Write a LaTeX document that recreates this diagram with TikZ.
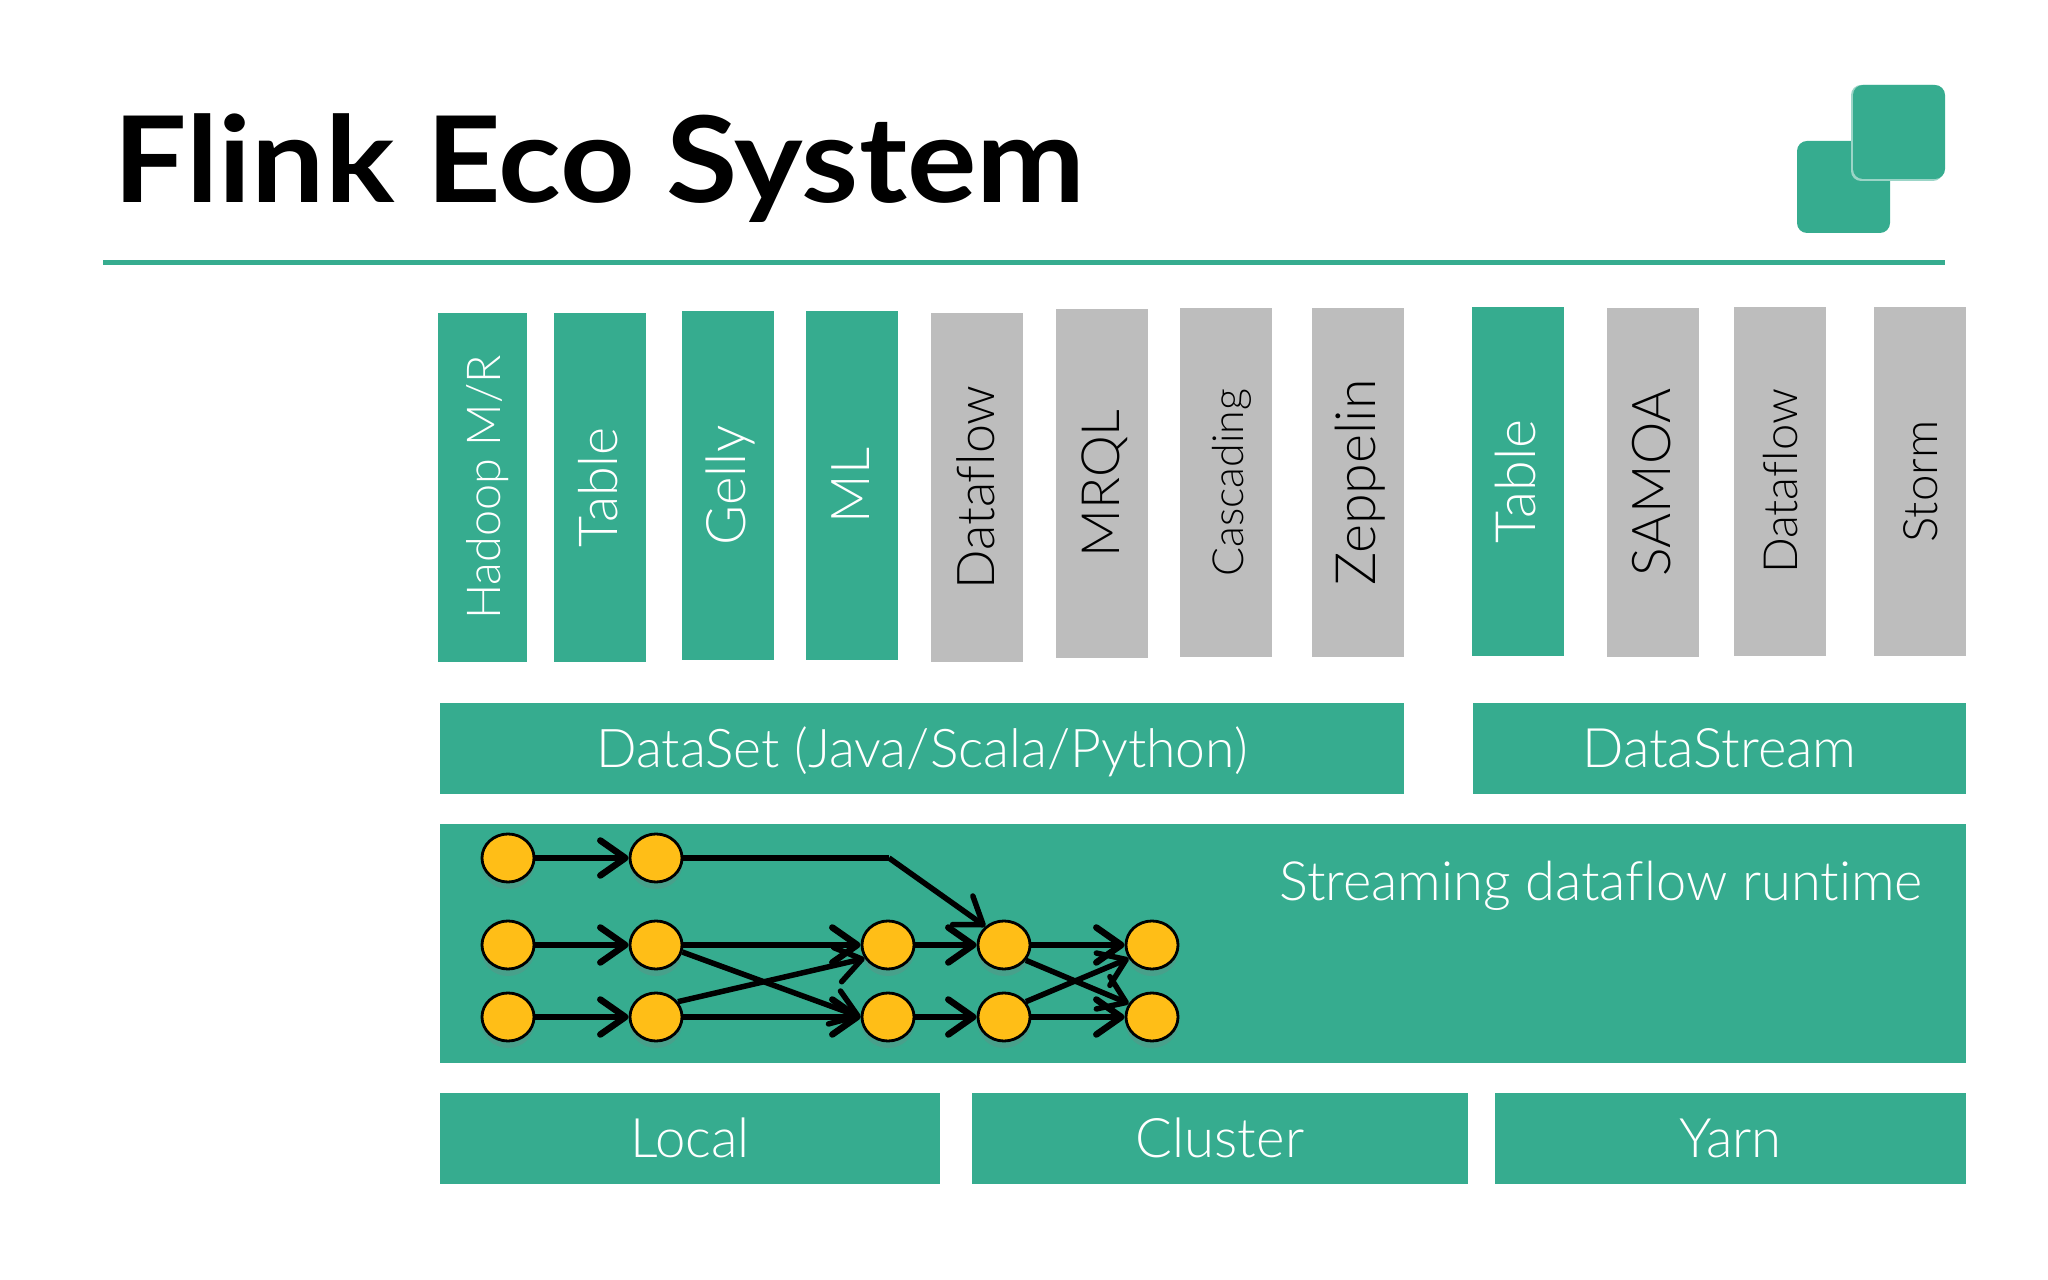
\documentclass[tikz,border=0pt]{standalone}
\usepackage{fontspec}
\setmainfont{Lato Light}[Ligatures=NoCommon]
\newfontfamily\titlefont{Lato Bold}[Ligatures=NoCommon]
\usepackage{xcolor}
\usepackage{tikz}
\usetikzlibrary{calc,arrows.meta,shadows,shapes.geometric}
\definecolor{flink}{HTML}{36AC8F}
\definecolor{slab}{HTML}{BDBDBD}
\definecolor{yolk}{HTML}{FFBE17}
\newcommand{\barsize}[1]{\fontsize{#1}{#1}\selectfont}

\begin{document}
\begin{tikzpicture}
    [%%%%%%%%%%%%%%%%%%%%%%%%%%%%%%
        x=0.01cm,y=-0.01cm,
        bar/.style={rotate=90,minimum width=3.49cm,minimum height=.91cm,inner sep=0pt,text height=10pt,text depth=0pt},
        lib/.style={bar,fill=flink,text=white},
        slim/.style={lib,minimum height=.885cm},
        ext/.style={bar,fill=slab,text=black},
        box/.style={fill=flink,text=white,inner sep=0pt,text height=11pt,text depth=0pt,font=\barsize{15.5pt}},
        task/.style={ellipse,draw=black,fill=yolk,line width=.8pt,minimum width=.52cm,minimum height=.48cm,inner sep=0pt,
            drop shadow={shadow xshift=0pt,shadow yshift=-2pt,opacity=.25}},
        flow/.style={line width=.065cm,-{Straight Barb[length=.25cm,width=.35cm,round]}},
        cross/.style={flow,line width=.055cm},
    ]%%%%%%%%%%%%%%%%%%%%%%%%%%%%%%

\useasboundingbox (0,0) rectangle (2048,1280);

\node[anchor=base west,inner sep=0pt,xscale=1.088,transform shape,font=\titlefont\fontsize{34pt}{36pt}\selectfont] (title) at (113,203) {Flink Eco System};
\draw[flink,line width=.055cm] (103,262.5) -- (1945,262.5);

% logo
\fill[flink,rounded corners=.1cm] (1797,141) rectangle (1890,233);
\fill[flink!50!white,rounded corners=.1cm] (1851,85) rectangle (1943,181);
\fill[flink,rounded corners=.1cm] (1853,85) rectangle (1945,179);

% upright bars
\foreach \n/\s/\t/\x/\y/\f in {
	hadoop/slim/Hadoop M\slash R/482.75/487.5/13.3,
	table/lib/Table/600/487.5/15.3,
	gelly/lib/Gelly/728/485.5/15.5,
	ml/lib/ML/852/485.5/15.2,
	dataflow/ext/Dataflow/977/487.5/14.8,
	mrql/ext/MRQL/1102/483.5/15,
	cascading/ext/Cascading/1226/482.5/12.2,
	zeppelin/ext/Zeppelin/1358/482.5/15.8,
	tableb/lib/Table/1518/481.5/15.8,
	samoa/ext/SAMOA/1653/482.5/15.2,
	dataflowb/ext/Dataflow/1780/481.5/13.4,
	storm/ext/Storm/1920/481.5/13.5%
}{
	\node[\s,font=\barsize{\f pt}] (\n) at (\x,\y) {\t};
}

\node[box,minimum width=9.64cm,minimum height=.91cm,font=\barsize{15.2pt}] (dataset) at (922,748.5) {DataSet (Java/Scala/Python)};
\node[box,minimum width=4.93cm,minimum height=.91cm] (datastream) at (1719.5,748.5) {DataStream};
\node[box,minimum width=15.26cm,minimum height=2.39cm] (runtime) at (1203,943.5) {};
\node[anchor=base,text=white,inner sep=0pt,font=\barsize{15.4pt}] (runtimelabel) at (1601,901) {Streaming dataflow runtime};
\node[box,minimum width=5.00cm,minimum height=.91cm] (local) at (690,1138.5) {Local};
\node[box,minimum width=4.96cm,minimum height=.91cm] (cluster) at (1220,1138.5) {Cluster};
\node[box,minimum width=4.71cm,minimum height=.91cm] (yarn) at (1730.5,1138.5) {Yarn};

% dataflow graph
\foreach \n/\x/\y in {a1/508/858,a2/656/858,
	b1/508/945,b2/656/945,b3/888/945,b4/1004/945,b5/1152/945,
	c1/508/1017,c2/656/1017,c3/888/1017,c4/1004/1017,c5/1152/1017}{
	\node[task] (\n) at (\x,\y){};
}
\coordinate (bend) at (889,858);

\foreach \a/\b in {a1/a2,b1/b2,c1/c2,b2/b3,c2/c3,b3/b4,c3/c4,b4/b5,c4/c5}{
	\draw[flow] (\a) -- (\b);
}
\draw[line width=.065cm] (a2) -- (bend);
\draw[cross] (bend) -- (b4.135);
\draw[cross] (b2.-15) -- (c3.west);
\draw[cross] (c2.35) -- (b3.210);
\draw[cross] (b4.-35) -- (c5.150);
\draw[cross] (c4.35) -- (b5.210);

\end{tikzpicture}
\end{document}
